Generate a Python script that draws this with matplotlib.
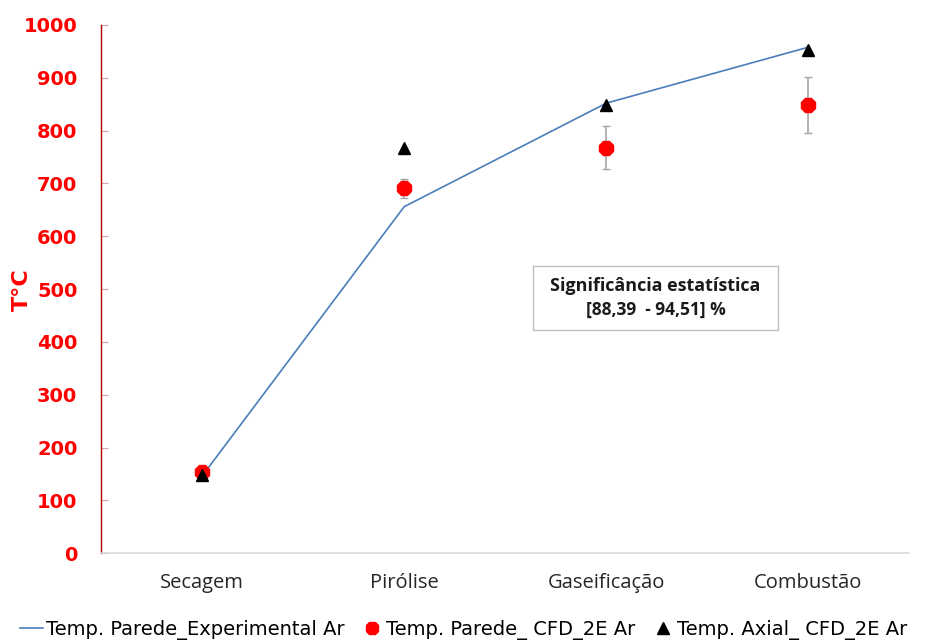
import matplotlib
matplotlib.use("Agg")
import matplotlib.pyplot as plt
from matplotlib.lines import Line2D

stages = ["Secagem", "Pirólise", "Gaseificação", "Combustão"]
wall_experimental = [146, 656, 852, 958]
wall_cfd = [153, 691, 768, 848]
wall_cfd_err = [0, 18, 40, 53]
axial_cfd = [148, 767, 848, 952]
y_ticks = [0, 100, 200, 300, 400, 500, 600, 700, 800, 900, 1000]

fig = plt.figure(figsize=(9.27, 6.41), dpi=100)
ax = fig.add_axes([0.109, 0.137, 0.872, 0.824])

x = list(range(len(stages)))
ax.plot(x, wall_experimental, color="#4A7EBB", lw=1.2, zorder=2)
ax.errorbar(x, wall_cfd, yerr=wall_cfd_err, fmt="none", ecolor="#A6A6A6",
            elinewidth=1.2, capsize=3, capthick=1.0, zorder=3)
ax.plot(x, wall_cfd, linestyle="none", marker="8", markersize=10.5,
        color="#FF0000", markeredgecolor="#FF0000", zorder=4)
ax.plot(x, axial_cfd, linestyle="none", marker="^", markersize=9,
        color="black", zorder=5)

ax.set_xlim(-0.5, len(stages) - 0.5)
ax.set_ylim(0, 1000)
ax.set_yticks(y_ticks)
ax.set_yticklabels([str(v) for v in y_ticks], color="#FF0000",
                   fontweight="bold", fontsize=14, family="DejaVu Sans")
ax.set_xticks(x)
ax.set_xticklabels(stages, fontsize=14.5, family="Open Sans", color="#262626")
ax.tick_params(axis="x", length=0, pad=14)
ax.tick_params(axis="y", direction="in", length=5, color="#D9A3A3", pad=17)

for side in ("top", "right"):
    ax.spines[side].set_visible(False)
ax.spines["left"].set_color("#B00000")
ax.spines["left"].set_linewidth(1.0)
ax.spines["bottom"].set_color("#D9D9D9")
ax.spines["bottom"].set_linewidth(1.2)

fig.text(22 / 927, 1 - 290 / 641, "T°C", color="#FF0000", fontweight="bold",
         fontsize=16, family="DejaVu Sans", rotation=90,
         ha="center", va="center")

# annotation box with statistical significance
box_ax = fig.add_axes([533 / 927, 1 - 330 / 641, 245 / 927, 64 / 641])
box_ax.set_xticks([])
box_ax.set_yticks([])
for s in box_ax.spines.values():
    s.set_color("#BFBFBF")
    s.set_linewidth(1.0)
box_ax.text(0.5, 0.69, "Significância estatística", ha="center", va="center",
            fontsize=13, fontweight="bold", family="Open Sans", color="#1a1a1a")
box_ax.text(0.5, 0.31, "[88,39  - 94,51] %", ha="center", va="center",
            fontsize=12.5, fontweight="bold", family="Open Sans", color="#1a1a1a")

handles = [
    Line2D([], [], color="#4A7EBB", lw=1.2),
    Line2D([], [], linestyle="none", marker="8", markersize=10, color="#FF0000"),
    Line2D([], [], linestyle="none", marker="^", markersize=9, color="black"),
]
labels = ["Temp. Parede_Experimental Ar", "Temp. Parede_ CFD_2E Ar",
          "Temp. Axial_ CFD_2E Ar"]
fig.legend(handles, labels, loc="center", bbox_to_anchor=(0.5, 1 - 630 / 641),
           ncol=3, frameon=False, handlelength=1.2, handletextpad=0.15,
           columnspacing=0.8, prop={"family": "DejaVu Sans", "size": 14})

fig.savefig("out.png", dpi=100)
